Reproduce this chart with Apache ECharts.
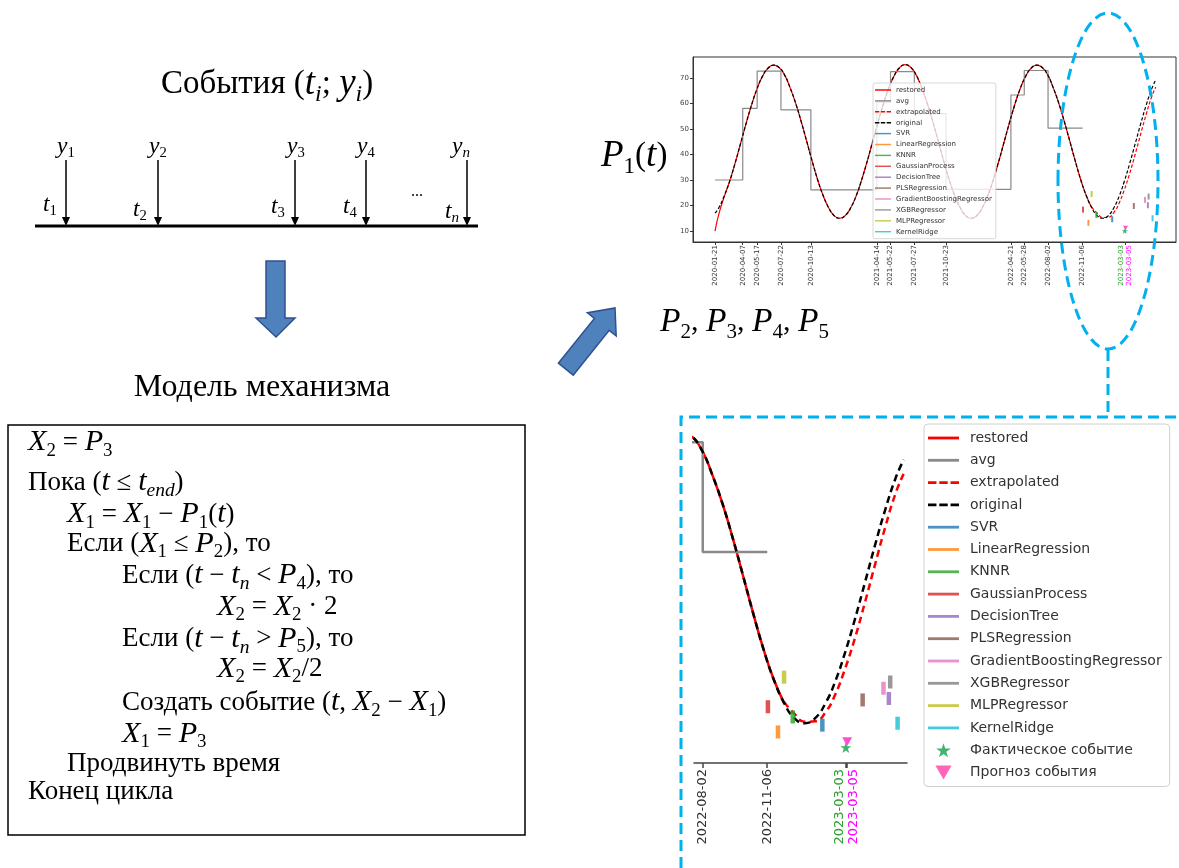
<!DOCTYPE html>
<html><head><meta charset="utf-8">
<script src="https://cdn.jsdelivr.net/npm/echarts@6/dist/echarts.min.js"></script>
<style>html,body{margin:0;padding:0;background:#fff}#c{width:1179px;height:868px}</style>
</head><body><div id="c"></div>
<script>
// ---------------- DATA ----------------
const mainTickDates = ['2020-01-21','2020-04-07','2020-05-17','2020-07-22','2020-10-13','2021-04-14','2021-05-22','2021-07-27','2021-10-23','2022-04-21','2022-05-28','2022-08-02','2022-11-06'];
const zoomTickDates = ['2022-08-02','2022-11-06'];
const actualTickDates = ['2023-03-03'];
const forecastTickDates = ['2023-03-05'];
const yTickValues = [10,20,30,40,50,60,70];
const actualDate = '2023-03-03';
const forecastDate = '2023-03-05';

const original = [
['2020-01-21',17.0],['2020-02-01',19.2],['2020-02-16',23.9],['2020-03-01',29.2],['2020-03-16',36.2],['2020-04-01',44.3],['2020-04-16',52.0],['2020-05-01',59.2],['2020-05-16',65.5],['2020-06-01',70.7],['2020-06-16',73.8],['2020-07-01',75.0],['2020-07-16',74.2],['2020-08-01',71.2],['2020-08-16',66.3],['2020-09-01',60.0],['2020-09-16',53.0],['2020-10-01',45.4],['2020-10-16',37.7],['2020-11-01',30.0],['2020-11-16',23.9],['2020-12-01',19.2],['2020-12-16',16.1],
['2021-01-01',15.0],['2021-01-16',16.0],['2021-02-01',19.2],['2021-02-16',23.9],['2021-03-01',29.2],['2021-03-16',36.2],['2021-04-01',44.3],['2021-04-16',52.0],['2021-05-01',59.2],['2021-05-16',65.6],['2021-06-01',70.8],['2021-06-16',74.0],['2021-07-01',75.2],['2021-07-16',74.3],['2021-08-01',71.2],['2021-08-16',66.3],['2021-09-01',60.0],['2021-09-16',53.0],['2021-10-01',45.4],['2021-10-16',37.7],['2021-11-01',30.0],['2021-11-16',23.9],['2021-12-01',19.2],['2021-12-16',16.1],
['2022-01-01',15.0],['2022-01-16',16.0],['2022-02-01',19.2],['2022-02-16',23.9],['2022-03-01',29.2],['2022-03-16',36.2],['2022-04-01',44.3],['2022-04-16',52.0],['2022-05-01',59.2],['2022-05-16',65.5],['2022-06-01',70.7],['2022-06-16',73.8],['2022-07-01',75.0],['2022-07-16',74.2],['2022-08-01',71.2],['2022-08-16',66.3],['2022-09-01',60.0],['2022-09-16',53.0],['2022-10-01',45.4],['2022-10-16',37.7],['2022-11-01',30.0],['2022-11-16',23.9],['2022-12-01',19.2],['2022-12-16',16.1],
['2023-01-01',15.0],['2023-01-16',16.0],['2023-02-01',19.2],['2023-02-16',23.9],['2023-03-01',29.2],['2023-03-16',36.2],['2023-04-01',44.3],['2023-04-16',52.0],['2023-05-01',59.2],['2023-05-16',65.5],['2023-05-28',69.3]
];
const restoredStart = [['2020-01-21',10.0],['2020-02-01',16.8],['2020-02-16',23.6]];
const restoredFrom = '2020-03-01';
const restoredTo = '2022-12-01';
const extrapolated = [
['2022-12-01',19.4],['2022-12-16',17.0],['2023-01-01',15.3],['2023-01-16',15.4],['2023-02-01',17.3],['2023-02-16',21.2],['2023-03-01',25.9],['2023-03-16',32.3],['2023-04-01',40.2],['2023-04-16',48.0],['2023-05-01',55.6],['2023-05-16',62.4],['2023-05-28',66.4]
];
const avgSteps = [
['2020-01-21',30.0],['2020-04-07',58.1],['2020-05-17',72.7],['2020-07-22',57.5],['2020-10-13',26.1],['2021-04-14',60.5],['2021-05-22',72.5],['2021-07-27',56.0],['2021-10-23',26.3],['2022-04-21',63.3],['2022-05-28',72.9],['2022-08-02',50.3],['2022-11-06',50.3]
];
const modelNames = ['SVR','LinearRegression','KNNR','GaussianProcess','DecisionTree','PLSRegression','GradientBoostingRegressor','XGBRegressor','MLPRegressor','KernelRidge'];
const modelDates = ['2023-01-27','2022-11-22','2022-12-14','2022-11-07','2023-05-06','2023-03-28','2023-04-28','2023-05-08','2022-12-01','2023-05-19'];
const modelValues = [14.6,13.2,16.3,18.4,20.1,19.8,22.2,23.5,24.5,15.0];
const actualEvent = [[actualDate,10.0]];
const forecastEvent = [[forecastDate,11.2]];

// ---------------- STYLES ----------------
const modelColors = ['#1f77b4','#ff7f0e','#2ca02c','#d62728','#9467bd','#8c564b','#e377c2','#7f7f7f','#bcbd22','#17becf'];
const SOLID = 'path://M0,0H33V3H0Z';
const DASH = 'path://M0,0H9V3H0ZM12,0H21V3H12ZM24,0H33V3H24Z';
const STAR = 'path://M50,0L61.8,36.2L100,36.2L69.1,58.8L80.9,95.1L50,72.7L19.1,95.1L30.9,58.8L0,36.2L38.2,36.2Z';
const TRI = 'path://M0,0L100,0L50,86.6Z';

const parseD = d => new Date(d + 'T00:00:00').getTime();
const pts = arr => arr.map(p => [parseD(p[0]), p[1]]);
const pad2 = n => (n < 10 ? '0' : '') + n;
const fmtDate = v => { const d = new Date(Number(v)); return d.getFullYear() + '-' + pad2(d.getMonth() + 1) + '-' + pad2(d.getDate()); };

const restored = restoredStart.concat(original.filter(p => p[0] >= restoredFrom && p[0] <= restoredTo));

function makeSeries(gi, st) {
  const ax = {xAxisIndex: gi, yAxisIndex: gi};
  const out = [];
  out.push(Object.assign({type:'line', name:'restored', data:pts(restored), smooth:true, symbol:'none', showSymbol:false, lineStyle:{color:'#ff0000', width:st.lw}, itemStyle:{color:'#ff0000'}, z:2}, ax));
  out.push(Object.assign({type:'line', name:'avg', data:pts(avgSteps), step:'end', symbol:'none', showSymbol:false, lineStyle:{color:'#8a8a8a', width:st.lw}, itemStyle:{color:'#8a8a8a'}, z:2}, ax));
  out.push(Object.assign({type:'line', name:'extrapolated', data:pts(extrapolated), smooth:true, symbol:'none', showSymbol:false, lineStyle:{color:'#ff0000', width:st.lw, type:st.dash}, itemStyle:{color:'#ff0000'}, z:2}, ax));
  out.push(Object.assign({type:'line', name:'original', data:pts(original), smooth:true, symbol:'none', showSymbol:false, lineStyle:{color:'#000', width:st.lw, type:st.dash}, itemStyle:{color:'#000'}, z:2}, ax));
  modelNames.forEach((n, i) => {
    out.push(Object.assign({type:'scatter', name:n, data:[[parseD(modelDates[i]), modelValues[i]]], symbol:'rect', symbolSize:st.bar, itemStyle:{color:modelColors[i]}, z:3}, ax));
  });
  out.push(Object.assign({type:'scatter', name:'Фактическое событие', data:pts(actualEvent), symbol:STAR, symbolSize:st.star, itemStyle:{color:'#10a04a'}, z:4}, ax));
  out.push(Object.assign({type:'scatter', name:'Прогноз события', data:pts(forecastEvent), symbol:TRI, symbolSize:[st.tri, st.tri*0.87], itemStyle:{color:'#ff22cc'}, z:4}, ax));
  return out;
}

const legendBase = [{name:'restored', icon:SOLID},{name:'avg', icon:SOLID},{name:'extrapolated', icon:DASH},{name:'original', icon:DASH}]
  .concat(modelNames.map(n => ({name:n, icon:SOLID})));
const legendZoom = legendBase.concat([{name:'Фактическое событие', icon:STAR, itemStyle:{color:'#10a04a'}},{name:'Прогноз события', icon:TRI, itemStyle:{color:'#ff3fa8'}}]);

// ---------------- TEXT HELPERS ----------------
function mathRich(fs) {
  const L = Math.round(fs * 1.35);
  const sl = L - 0.64 * fs;
  return {
    n: {fontFamily:'Liberation Serif', fontSize:fs, lineHeight:L, verticalAlign:'middle', fill:'#000'},
    m: {fontFamily:'Liberation Serif', fontStyle:'italic', fontSize:fs*1.12, lineHeight:L, verticalAlign:'middle', fill:'#000'},
    s: {fontFamily:'Liberation Serif', fontSize:fs*0.7, lineHeight:sl, verticalAlign:'bottom', fill:'#000'},
    si: {fontFamily:'Liberation Serif', fontStyle:'italic', fontSize:fs*0.72, lineHeight:sl, verticalAlign:'bottom', fill:'#000'}
  };
}
function T(x, y, text, fs, align) {
  return {type:'text', x:x, y:y, z:50, style:{text:text, rich:mathRich(fs), align:align||'left', verticalAlign:'middle', textAlign:align||'left', textVerticalAlign:'middle', fontFamily:'Liberation Serif', fontSize:fs, fill:'#000'}};
}

const graphics = [];
graphics.push(T(267, 84, '{n|События (}{m|t}{si|i}{n|; }{m|y}{si|i}{n|)}', 33, 'center'));
graphics.push({type:'line', shape:{x1:35, y1:226, x2:478, y2:226}, style:{stroke:'#000', lineWidth:3}, z:50});
const arrowX = [66, 158, 295, 366, 467];
const yLabX = [66, 158, 296, 366, 461];
const tLabX = [50, 140, 278, 350, 452];
const tLabY = [205, 210, 207, 207, 212];
const subs = ['{s|1}','{s|2}','{s|3}','{s|4}','{si|n}'];
arrowX.forEach((x, i) => {
  graphics.push({type:'line', shape:{x1:x, y1:160, x2:x, y2:218}, style:{stroke:'#000', lineWidth:1.5}, z:50});
  graphics.push({type:'polygon', shape:{points:[[x-4,217],[x+4,217],[x,226]]}, style:{fill:'#000'}, z:50});
  graphics.push(T(yLabX[i], 147, '{m|y}' + subs[i], 21, 'center'));
  graphics.push(T(tLabX[i], tLabY[i], '{m|t}' + subs[i], 21, 'center'));
});
graphics.push({type:'text', x:417, y:192, z:50, style:{text:'...', fontFamily:'Liberation Serif', fontSize:16, fill:'#000', align:'center', verticalAlign:'middle', textAlign:'center', textVerticalAlign:'middle'}});
graphics.push({type:'polygon', shape:{points:[[266,261],[285,261],[285,318],[295,318],[276,337],[256,318],[266,318]]}, style:{fill:'#4f81bd', stroke:'#2f528f', lineWidth:1.5}, z:50});
graphics.push(T(262, 388, '{n|Модель механизма}', 32, 'center'));
graphics.push({type:'rect', shape:{x:8, y:425, width:517, height:410}, style:{fill:'#fff', stroke:'#000', lineWidth:1.5}, z:40});
const code = [
 [28, 442.5, '{m|X}{s|2}{n| = }{m|P}{s|3}'],
 [28, 482.5, '{n|Пока (}{m|t}{n| ≤ }{m|t}{si|end}{n|)}'],
 [67, 514.5, '{m|X}{s|1}{n| = }{m|X}{s|1}{n| − }{m|P}{s|1}{n|(}{m|t}{n|)}'],
 [67, 544, '{n|Если (}{m|X}{s|1}{n| ≤ }{m|P}{s|2}{n|), то}'],
 [122, 575.5, '{n|Если (}{m|t}{n| − }{m|t}{si|n}{n| < }{m|P}{s|4}{n|), то}'],
 [217, 607, '{m|X}{s|2}{n| = }{m|X}{s|2}{n| · 2}'],
 [122, 639, '{n|Если (}{m|t}{n| − }{m|t}{si|n}{n| > }{m|P}{s|5}{n|), то}'],
 [217, 669, '{m|X}{s|2}{n| = }{m|X}{s|2}{n|/2}'],
 [122, 702.5, '{n|Создать событие (}{m|t}{n|, }{m|X}{s|2}{n| − }{m|X}{s|1}{n|)}'],
 [122, 734, '{m|X}{s|1}{n| = }{m|P}{s|3}'],
 [67, 764, '{n|Продвинуть время}'],
 [28, 792, '{n|Конец цикла}']
];
code.forEach(c => graphics.push(T(c[0], c[1], c[2], 27, 'left')));
graphics.push({type:'polygon', shape:{points:[[573.2,375.2],[609.2,330.4],[616.2,336],[615,308],[587.4,312.8],[594.4,318.4],[558.4,363.2]]}, style:{fill:'#4f81bd', stroke:'#2f528f', lineWidth:1.5}, z:50});
graphics.push(T(601, 156, '{m|P}{s|1}{n|(}{m|t}{n|)}', 33, 'left'));
graphics.push(T(660, 322, '{m|P}{s|2}{n|, }{m|P}{s|3}{n|, }{m|P}{s|4}{n|, }{m|P}{s|5}', 30, 'left'));
const blue = {stroke:'#00b0f0', lineWidth:3, lineDash:[11,6], fill:'transparent'};
graphics.push({type:'ellipse', shape:{cx:1108, cy:181, rx:50, ry:168}, style:blue, z:100});
graphics.push({type:'polyline', shape:{points:[[1108,350],[1108,417]]}, style:blue, z:100});
graphics.push({type:'polyline', shape:{points:[[681,868],[681,417],[1179,417]]}, style:blue, z:100});

// ---------------- CHART ----------------
const chart = echarts.init(document.getElementById('c'));
const mainTicks = mainTickDates.map(parseD);
const zoomTicks = zoomTickDates.map(parseD);
const acTicks = actualTickDates.map(parseD);
const fcTicks = forecastTickDates.map(parseD);
const mainMin = parseD('2019-11-21'), mainMax = parseD('2023-07-23');
const zoomMin = parseD('2022-07-20'), zoomMax = parseD('2023-06-02');
function overlayAxis(gi, min, max, ticks, color, valign, fs, margin, tlen, tw) {
  return {type:'value', gridIndex:gi, position:'bottom', offset:0, min:min, max:max,
    axisLine:{show:false}, axisTick:{show:true, customValues:ticks, length:tlen, lineStyle:{color:'#444', width:tw}},
    axisLabel:{show:true, customValues:ticks, formatter:fmtDate, rotate:90, fontSize:fs, margin:margin, color:color, fontFamily:'DejaVu Sans', hideOverlap:false, verticalAlign:valign},
    splitLine:{show:false}, minorTick:{show:false}};
}
const option = {
  animation: false,
  backgroundColor: '#fff',
  grid: [
    {left:693, top:57, width:483, height:185, show:true, borderColor:'#333', borderWidth:1, backgroundColor:'transparent', containLabel:false},
    {left:694, top:437, width:213, height:326, show:false, containLabel:false}
  ],
  xAxis: [
    {type:'value', gridIndex:0, position:'bottom', min:mainMin, max:mainMax,
     axisLine:{show:true, lineStyle:{color:'#333', width:1}},
     axisTick:{show:true, customValues:mainTicks, length:3, lineStyle:{color:'#333', width:1}},
     axisLabel:{show:true, customValues:mainTicks, formatter:fmtDate, rotate:90, fontSize:7, margin:3, color:'#333', fontFamily:'DejaVu Sans', hideOverlap:false},
     splitLine:{show:false}, minorTick:{show:false}},
    {type:'value', gridIndex:1, position:'bottom', min:zoomMin, max:zoomMax,
     axisLine:{show:true, lineStyle:{color:'#444', width:1.5}},
     axisTick:{show:true, customValues:zoomTicks, length:5, lineStyle:{color:'#444', width:1.5}},
     axisLabel:{show:true, customValues:zoomTicks, formatter:fmtDate, rotate:90, fontSize:13, margin:6, color:'#333', fontFamily:'DejaVu Sans', hideOverlap:false},
     splitLine:{show:false}, minorTick:{show:false}},
    overlayAxis(0, mainMin, mainMax, acTicks, '#2ca02c', 'bottom', 7, 3, 3, 1),
    overlayAxis(0, mainMin, mainMax, fcTicks, '#ff00ff', 'top', 7, 3, 3, 1),
    overlayAxis(1, zoomMin, zoomMax, acTicks, '#2ca02c', 'bottom', 13, 6, 5, 1.5),
    overlayAxis(1, zoomMin, zoomMax, fcTicks, '#ff00ff', 'top', 13, 6, 5, 1.5)
  ],
  yAxis: [
    {type:'value', gridIndex:0, min:5.7, max:78.2,
     axisLine:{show:true, lineStyle:{color:'#333', width:1}},
     axisTick:{show:true, customValues:yTickValues, length:3, lineStyle:{color:'#333'}},
     axisLabel:{show:true, customValues:yTickValues, fontSize:7, color:'#444', margin:4, fontFamily:'DejaVu Sans'},
     splitLine:{show:false}},
    {type:'value', gridIndex:1, min:6.8, max:74, show:false, splitLine:{show:false}}
  ],
  legend: [
    {orient:'vertical', left:873, top:83, padding:[3,4,3,2], itemGap:2.9, itemWidth:16, itemHeight:8,
     textStyle:{fontSize:7, color:'#333', fontFamily:'DejaVu Sans', lineHeight:8},
     backgroundColor:'rgba(255,255,255,0.8)', borderColor:'#d8d8d8', borderWidth:1, borderRadius:2,
     selectedMode:false, itemStyle:{borderWidth:0}, data:legendBase, z:10},
    {orient:'vertical', left:924, top:424, padding:[6,8,6,4], itemGap:6.3, itemWidth:31, itemHeight:14,
     textStyle:{fontSize:14, color:'#333', fontFamily:'DejaVu Sans', lineHeight:16, padding:[0,0,0,6]},
     backgroundColor:'#fff', borderColor:'#d0d0d0', borderWidth:1, borderRadius:4,
     selectedMode:false, itemStyle:{borderWidth:0}, data:legendZoom, z:10}
  ],
  series: makeSeries(0, {lw:1.2, dash:[3.5,2], bar:[2,6], star:6, tri:5}).concat(
          makeSeries(1, {lw:2.5, dash:[7,4.5], bar:[4.5,13], star:11, tri:10})),
  graphic: graphics
};
try { chart.setOption(option); } catch (e) { console.error(e && e.stack || e); throw e; }
</script>
</body></html>
